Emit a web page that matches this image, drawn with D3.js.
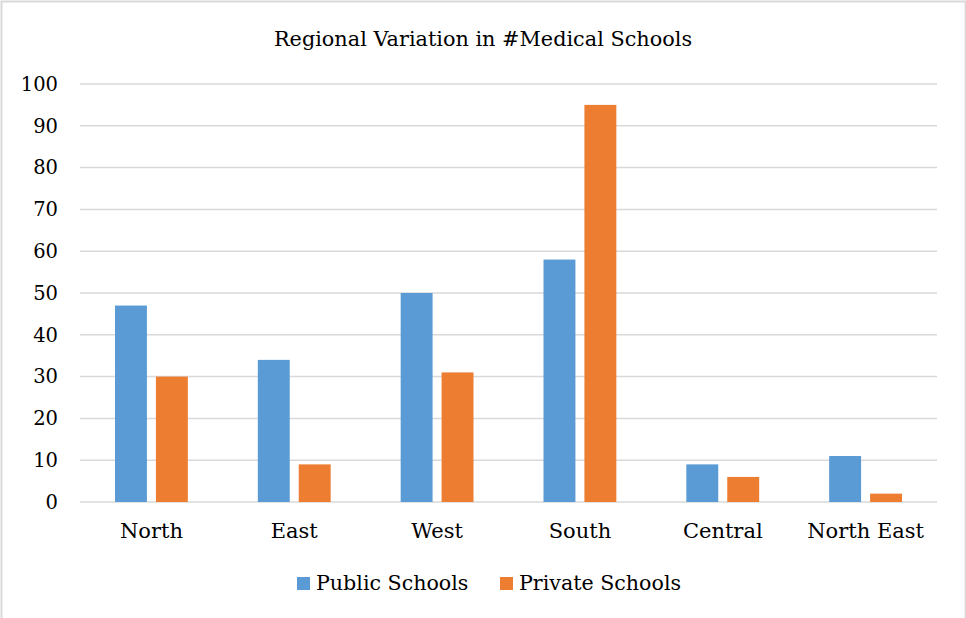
<!DOCTYPE html>
<html>
<head>
<meta charset="utf-8">
<script src="https://cdn.jsdelivr.net/npm/d3@7"></script>
<style>
  body { margin: 0; background: #fff; }
  text { font-family: "DejaVu Serif", "Liberation Serif", serif; fill: #000; }
</style>
</head>
<body>
<div id="chart"></div>
<script>
// Regional variation in medical schools
var categories = ["North", "East", "West", "South", "Central", "North East"];
var publicSchools = [47, 34, 50, 58, 9, 11];
var privateSchools = [30, 9, 31, 95, 6, 2];
var seriesNames = ["Public Schools", "Private Schools"];
var yTicks = [0, 10, 20, 30, 40, 50, 60, 70, 80, 90, 100];

var W = 966, H = 618;
var margin = { top: 84, right: 29, bottom: 116, left: 80 },
    width = W - margin.left - margin.right,
    height = H - margin.top - margin.bottom;
var colors = ["#5b9bd5", "#ed7d31"];

var svg = d3.select("#chart").append("svg")
    .attr("width", W)
    .attr("height", H);

// chart border
svg.append("rect")
    .attr("x", 1.5).attr("y", 1.5)
    .attr("width", W - 2).attr("height", H + 10)
    .attr("fill", "none")
    .attr("stroke", "#d9d9d9")
    .attr("stroke-width", 2);

svg.append("text")
    .attr("x", 483).attr("y", 46)
    .attr("text-anchor", "middle")
    .style("font-size", "20.8px")
    .text("Regional Variation in #Medical Schools");

var g = svg.append("g")
    .attr("transform", "translate(" + margin.left + "," + margin.top + ")");

var x0 = d3.scaleBand().domain(categories).range([0, width]).paddingInner(0.49).paddingOuter(0.245);
var x1 = d3.scaleBand().domain(seriesNames).range([0, x0.bandwidth()]).paddingInner(0.22);
var y = d3.scaleLinear().domain([0, 100]).range([height, 0]);

// gridlines
g.selectAll(".grid").data(yTicks).enter().append("line")
    .attr("x1", 0).attr("x2", width)
    .attr("y1", function (d) { return y(d); })
    .attr("y2", function (d) { return y(d); })
    .attr("stroke", "#d9d9d9")
    .attr("stroke-width", 1.5);

// y axis labels
var yAxis = g.append("g")
    .call(d3.axisLeft(y).tickValues(yTicks).tickSize(0).tickPadding(22));
yAxis.select(".domain").remove();
yAxis.selectAll("text")
    .style("font-size", "19.5px")
    .style("font-family", "'DejaVu Serif', serif");

var data = categories.map(function (c, i) {
    return { cat: c, values: [publicSchools[i], privateSchools[i]] };
});

var groups = g.selectAll(".grp").data(data).enter().append("g")
    .attr("transform", function (d) { return "translate(" + x0(d.cat) + ",0)"; });

groups.selectAll("rect").data(function (d) {
    return d.values.map(function (v, j) { return { key: seriesNames[j], value: v, j: j }; });
}).enter().append("rect")
    .attr("x", function (d) { return x1(d.key); })
    .attr("y", function (d) { return y(d.value); })
    .attr("width", x1.bandwidth())
    .attr("height", function (d) { return height - y(d.value); })
    .attr("fill", function (d) { return colors[d.j]; });

// x axis labels
var xAxis = g.append("g")
    .attr("transform", "translate(0," + height + ")")
    .call(d3.axisBottom(x0).tickSize(0).tickPadding(21));
xAxis.select(".domain").remove();
xAxis.selectAll("text")
    .style("font-size", "21px")
    .style("font-family", "'DejaVu Serif', serif");

// legend
var legendX = [297, 500];
var legend = svg.selectAll(".legend").data(seriesNames).enter().append("g")
    .attr("transform", function (d, i) { return "translate(" + legendX[i] + ",577)"; });
legend.append("rect")
    .attr("width", 13).attr("height", 13)
    .attr("fill", function (d, i) { return colors[i]; });
legend.append("text")
    .attr("x", 19).attr("y", 13)
    .style("font-size", "20.6px")
    .text(function (d) { return d; });
</script>
</body>
</html>
